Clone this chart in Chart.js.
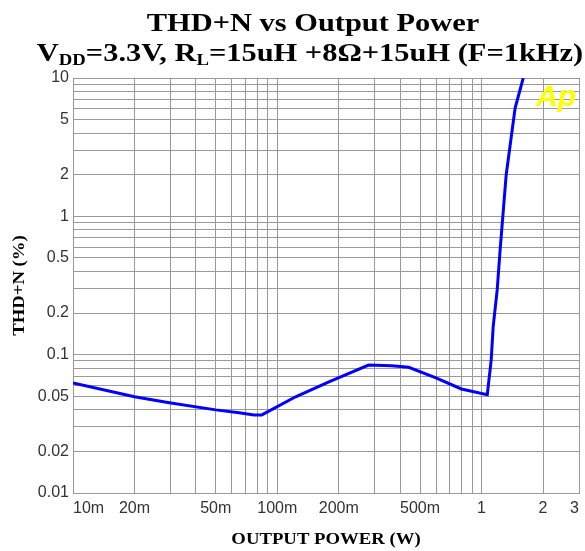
<!DOCTYPE html>
<html>
<head>
<meta charset="utf-8">
<script src="https://cdn.jsdelivr.net/npm/chart.js@4"></script>
<style>
  body { margin: 0; background: #fff; }
  canvas { display: block; }
</style>
</head>
<body>
<canvas id="chart" width="585" height="551"></canvas>
<script>
// curve: output power (W) / THD+N (%)
const power = [0.01, 0.02, 0.0296, 0.05, 0.065, 0.077, 0.084, 0.123, 0.179, 0.28, 0.363, 0.44, 0.598, 0.797, 1.067, 1.115, 1.14, 1.193, 1.233, 1.32, 1.46, 1.6];
const thdn  = [0.0625, 0.0496, 0.0449, 0.0399, 0.038, 0.0367, 0.0367, 0.0496, 0.0636, 0.0841, 0.083, 0.081, 0.068, 0.0565, 0.0513, 0.0917, 0.159, 0.294, 0.571, 1.99, 6.07, 10];

const xTicks = [0.01, 0.02, 0.03, 0.04, 0.05, 0.06, 0.07, 0.08, 0.09,
                0.1, 0.2, 0.3, 0.4, 0.5, 0.6, 0.7, 0.8, 0.9, 1, 2, 3];
const xTickLabels = ['10m', '20m', '', '', '50m', '', '', '', '',
                     '100m', '200m', '', '', '500m', '', '', '', '', '1', '2', '3'];
const yTicks = [0.01, 0.02, 0.03, 0.04, 0.05, 0.06, 0.07, 0.08, 0.09,
                0.1, 0.2, 0.3, 0.4, 0.5, 0.6, 0.7, 0.8, 0.9,
                1, 2, 3, 4, 5, 6, 7, 8, 9, 10];
const yTickLabels = ['0.01', '0.02', '', '', '0.05', '', '', '', '',
                     '0.1', '0.2', '', '', '0.5', '', '', '', '',
                     '1', '2', '', '', '5', '', '', '', '', '10'];

const titleLine1 = [{ text: 'THD+N vs Output Power' }];
const titleLine2 = [
  { text: 'V' }, { text: 'DD', sub: true }, { text: '=3.3V, R' }, { text: 'L', sub: true },
  { text: '=15uH +8\u03A9+15uH (F=1kHz)' }
];
const xTitle = 'OUTPUT POWER (W)';
const yTitle = 'THD+N (%)';

const grid_color = '#999999';
const serif = '"Liberation Serif", "Times New Roman", serif';
const tick_font = { family: '"Liberation Sans", Arial, sans-serif', size: 16 };
const stretch = 1.17;

// bold serif text, stretched sideways like the original, centred on cx
const drawLine = (ctx, parts, cx, y, size) => {
  const big = `bold ${size}px ${serif}`;
  const small = `bold ${Math.round(size * 0.62)}px ${serif}`;
  let total = 0;
  for (const p of parts) {
    ctx.font = p.sub ? small : big;
    total += ctx.measureText(p.text).width;
  }
  ctx.save();
  ctx.translate(cx, y);
  ctx.scale(stretch, 1);
  let x = -total / 2;
  for (const p of parts) {
    ctx.font = p.sub ? small : big;
    ctx.fillText(p.text, x, p.sub ? 4 : 0);
    x += ctx.measureText(p.text).width;
  }
  ctx.restore();
};

const decorations = {
  id: 'decorations',
  afterDraw(chart) {
    const ctx = chart.ctx;
    const area = chart.chartArea;
    ctx.save();
    ctx.fillStyle = '#000';
    ctx.textBaseline = 'alphabetic';
    ctx.textAlign = 'left';
    drawLine(ctx, titleLine1, 313, 31, 26);
    drawLine(ctx, titleLine2, 310, 61, 26);
    drawLine(ctx, [{ text: xTitle }], (area.left + area.right) / 2, 544, 16);
    ctx.save();
    ctx.translate(24, (area.top + area.bottom) / 2);
    ctx.rotate(-Math.PI / 2);
    drawLine(ctx, [{ text: yTitle }], 0, 0, 16);
    ctx.restore();
    // Ap logo
    ctx.font = `italic bold 30px "Liberation Sans", Arial, sans-serif`;
    ctx.fillStyle = '#ffff00';
    ctx.fillText('Ap', 536, 106);
    ctx.restore();
  }
};

const ctx = document.getElementById('chart').getContext('2d');
const chart = new Chart(ctx, {
  type: 'line',
  data: {
    datasets: [{
      data: power.map((p, i) => ({ x: p, y: thdn[i] })),
      borderColor: '#0000ff',
      borderWidth: 3,
      pointRadius: 0,
      tension: 0,
      fill: false,
    }]
  },
  options: {
    responsive: false,
    animation: false,
    devicePixelRatio: 1,
    layout: { padding: { top: 78, right: 2, left: 0, bottom: 0 } },
    plugins: { legend: { display: false }, tooltip: { enabled: false } },
    scales: {
      x: {
        type: 'logarithmic',
        min: 0.01,
        max: 3,
        afterBuildTicks: (axis) => { axis.ticks = xTicks.map(v => ({ value: v })); },
        afterFit: (axis) => { axis.height = 58; },
        ticks: {
          autoSkip: false,
          maxRotation: 0,
          align: 'inner',
          padding: 6,
          color: '#333',
          font: tick_font,
          callback: (v, i) => xTickLabels[i],
        },
        grid: { color: grid_color, drawTicks: false },
        border: { color: grid_color },
      },
      y: {
        type: 'logarithmic',
        min: 0.01,
        max: 10,
        afterBuildTicks: (axis) => { axis.ticks = yTicks.map(v => ({ value: v })); },
        afterFit: (axis) => { axis.width = 73; },
        ticks: {
          autoSkip: false,
          padding: 4,
          color: '#333',
          font: tick_font,
          callback: (v, i) => yTickLabels[i],
        },
        grid: { color: grid_color, drawTicks: false },
        border: { color: grid_color },
      }
    }
  },
  plugins: [decorations]
});
</script>
</body>
</html>
